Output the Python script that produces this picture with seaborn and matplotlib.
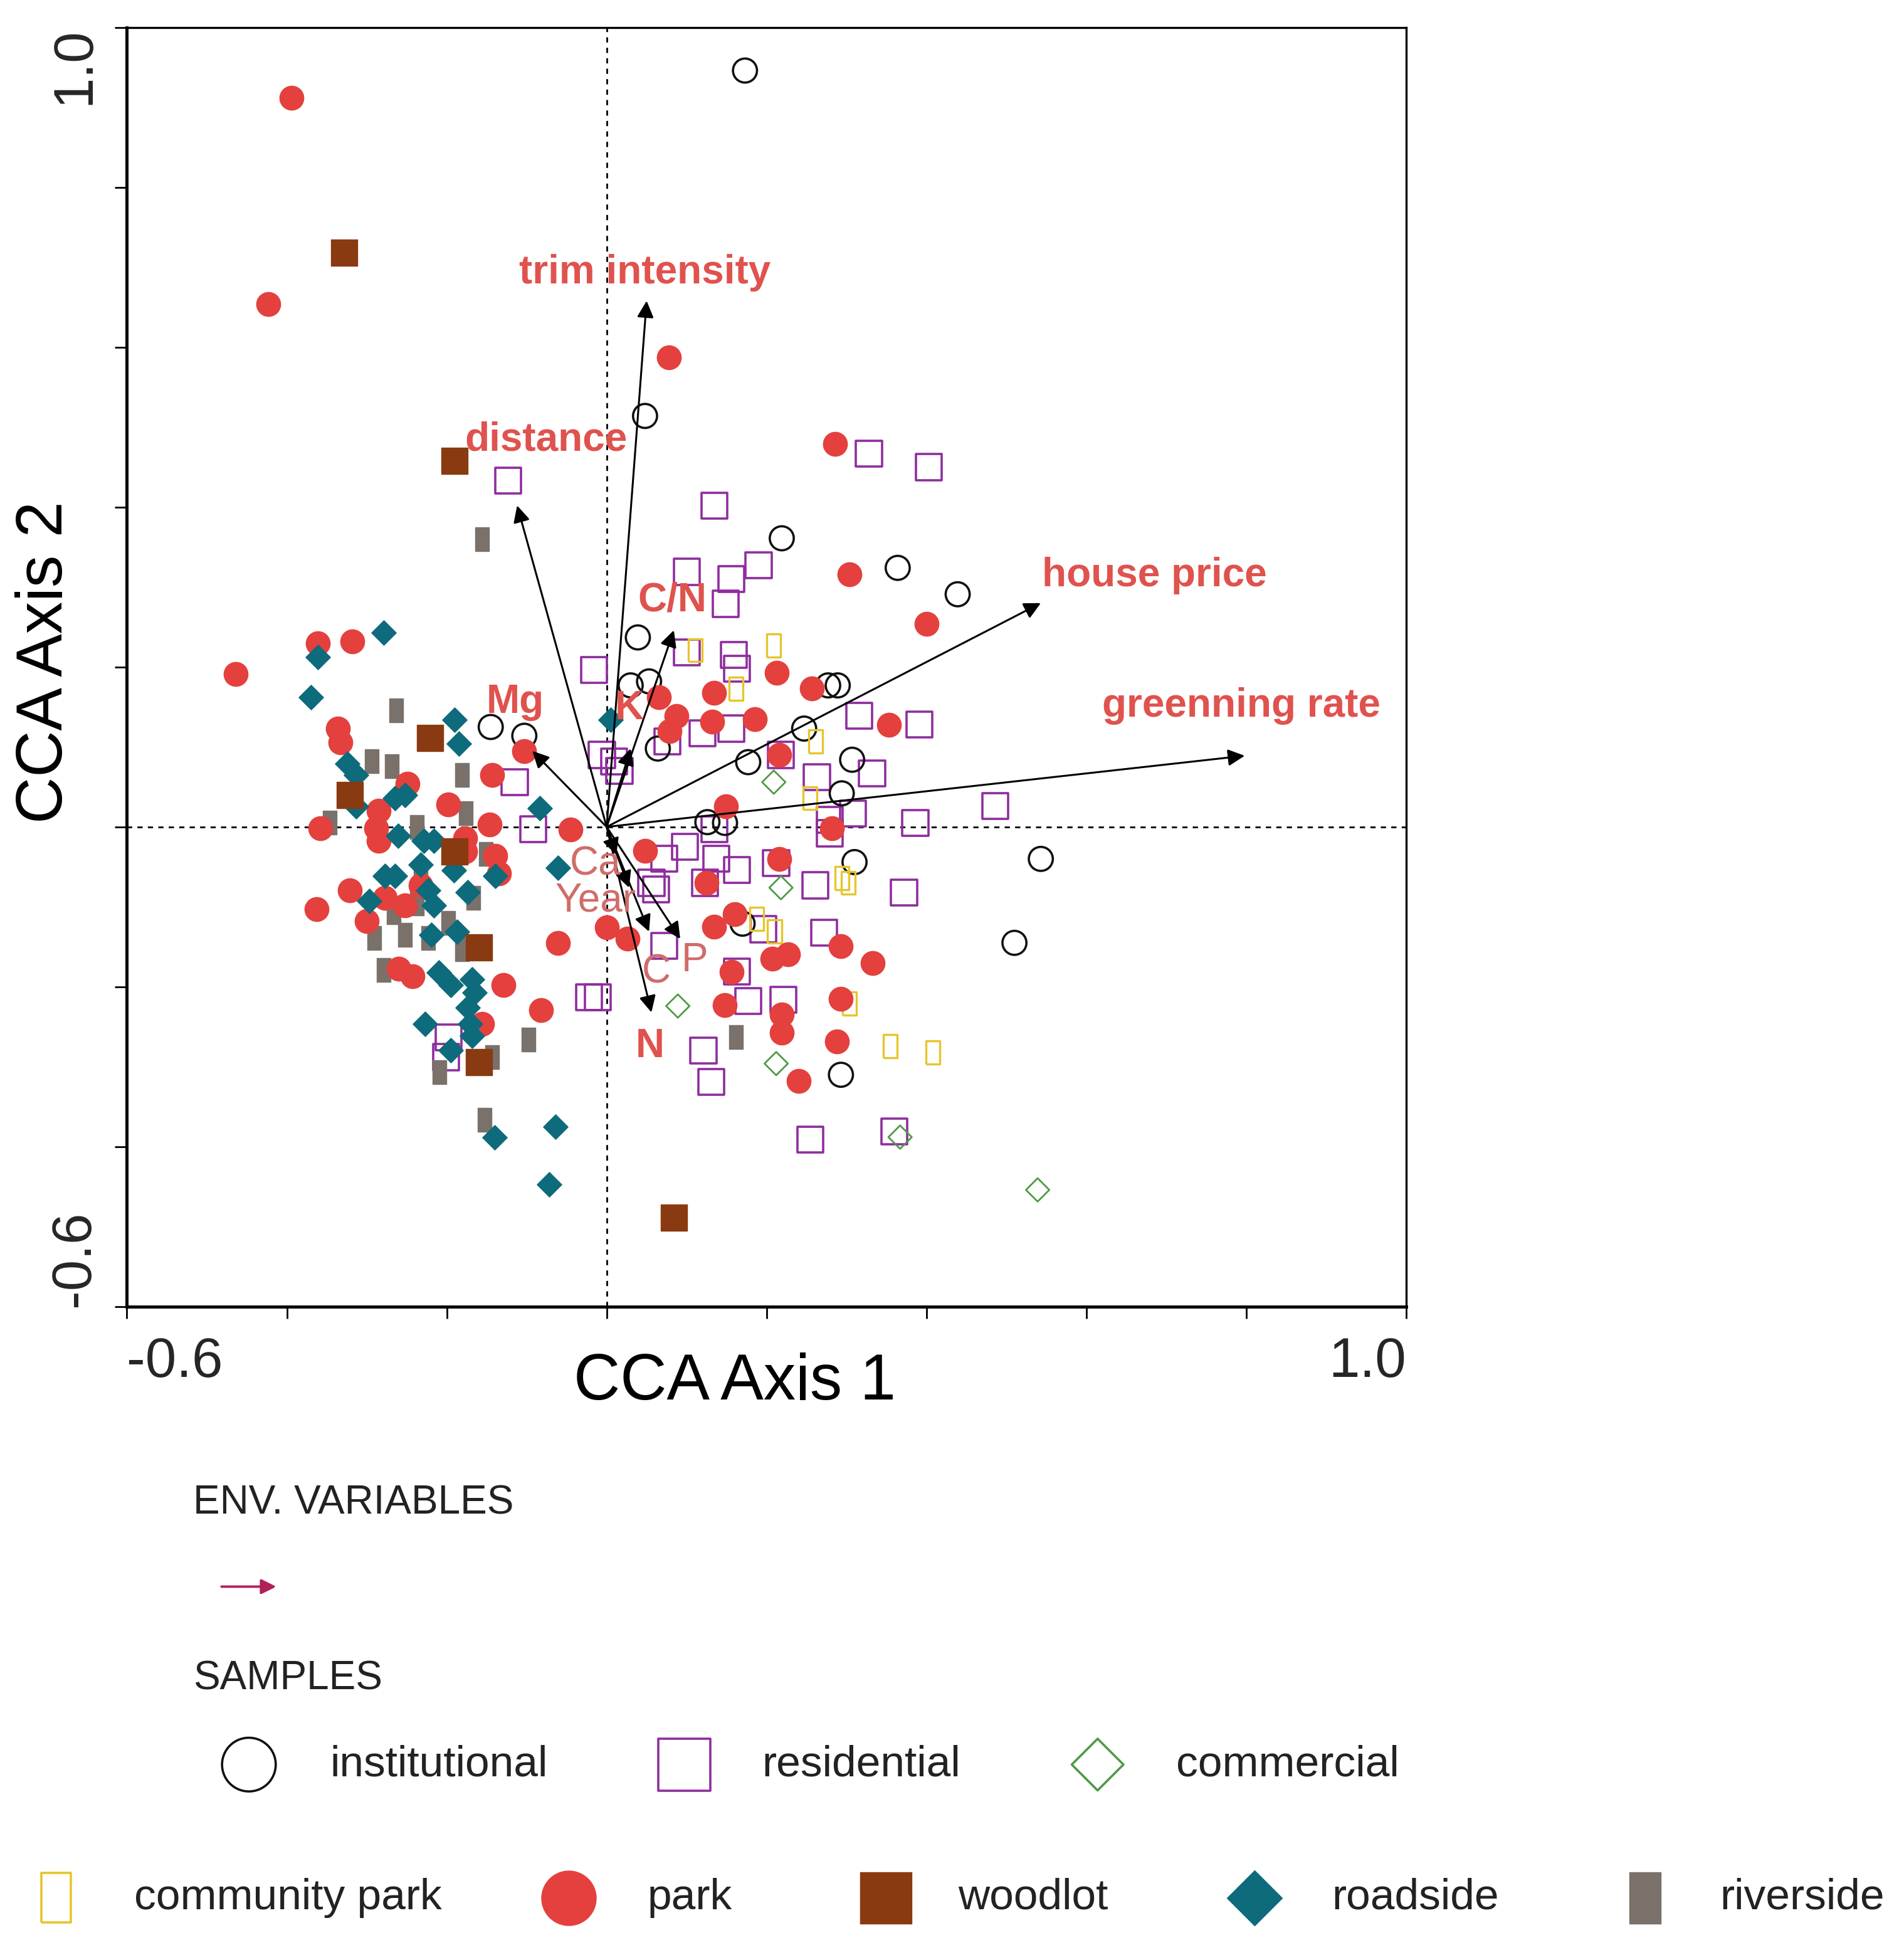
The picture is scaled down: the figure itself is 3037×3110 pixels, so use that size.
import numpy as np
import pandas as pd
import matplotlib
matplotlib.use('Agg')
import matplotlib.pyplot as plt
import seaborn as sns

# sample scores on CCA axis 1 / axis 2
institutional_x = [0.173, 0.048, 0.219, 0.364, 0.439, 0.039, 0.030, 0.053, 0.277, 0.289, -0.145, -0.103,
                   0.247, 0.064, 0.177, 0.307, 0.294, 0.126, 0.148, 0.310, 0.543, 0.510, 0.170, 0.293]
institutional_y = [0.946, 0.514, 0.361, 0.324, 0.291, 0.237, 0.177, 0.182, 0.177, 0.177, 0.125, 0.114,
                   0.123, 0.098, 0.081, 0.084, 0.042, 0.006, 0.005, -0.044, -0.040, -0.145, -0.121, -0.310]

residential_x = [-0.123, 0.328, 0.403, 0.135, 0.100, 0.156, 0.190, 0.149, -0.016, 0.159, 0.163, 0.100,
                 0.316, 0.391, 0.120, 0.156, 0.076, -0.006, 0.009, 0.016, 0.332, 0.263, 0.218, 0.486,
                 0.308, 0.279, 0.279, 0.386, 0.135, 0.098, 0.072, 0.137, 0.163, 0.056, 0.123, 0.212,
                 0.261, 0.372, 0.196, 0.272, 0.072, 0.163, -0.022, -0.011, 0.177, 0.221, 0.121, 0.131,
                 0.255, 0.360, -0.115, -0.092, -0.198, -0.201, 0.062]
residential_y = [0.433, 0.467, 0.450, 0.402, 0.319, 0.310, 0.327, 0.279, 0.196, 0.215, 0.198, 0.218,
                 0.139, 0.128, 0.117, 0.123, 0.107, 0.090, 0.082, 0.070, 0.067, 0.062, 0.090, 0.026,
                 0.017, 0.009, -0.008, 0.005, -0.003, -0.025, -0.040, -0.040, -0.054, -0.070, -0.070, -0.045,
                 -0.073, -0.082, -0.128, -0.132, -0.149, -0.181, -0.213, -0.213, -0.218, -0.216, -0.280, -0.319,
                 -0.391, -0.381, 0.056, -0.003, -0.263, -0.288, -0.078]

commercial_x = [0.209, 0.218, 0.089, 0.212, 0.367, 0.539]
commercial_y = [0.056, -0.076, -0.224, -0.296, -0.388, -0.454]

community_x = [0.209, 0.111, 0.162, 0.261, 0.254, 0.294, 0.302, 0.188, 0.210, 0.304, 0.355, 0.408]
community_y = [0.227, 0.221, 0.173, 0.107, 0.036, -0.064, -0.070, -0.115, -0.131, -0.221, -0.274, -0.282]

park_x = [-0.394, -0.423, 0.078, 0.286, -0.464, -0.361, -0.318, -0.336, -0.333, -0.249,
          -0.285, -0.288, -0.285, -0.358, -0.198, -0.143, -0.146, -0.177, -0.177, -0.139,
          -0.135, -0.045, -0.103, -0.321, -0.363, -0.300, -0.277, -0.252, -0.233, -0.061,
          0.000, 0.026, -0.260, -0.243, -0.129, -0.082, -0.156, 0.304, 0.400, 0.213,
          0.134, 0.257, 0.065, 0.087, 0.079, 0.132, 0.185, 0.353, 0.216, 0.149,
          0.282, 0.048, 0.216, 0.125, 0.160, 0.134, 0.293, 0.207, 0.227, 0.333,
          0.156, 0.293, 0.148, 0.219, 0.219, 0.288, 0.240]
park_y = [0.912, 0.654, 0.587, 0.479, 0.191, 0.230, 0.232, 0.123, 0.106, 0.054,
          0.020, -0.002, -0.017, -0.002, 0.028, 0.065, 0.003, -0.014, -0.031, -0.036,
          -0.058, -0.003, 0.095, -0.079, -0.103, -0.118, -0.089, -0.098, -0.073, -0.145,
          -0.126, -0.140, -0.177, -0.187, -0.198, -0.229, -0.246, 0.316, 0.254, 0.193,
          0.168, 0.173, 0.162, 0.139, 0.120, 0.132, 0.135, 0.128, 0.090, 0.026,
          -0.002, -0.030, -0.040, -0.070, -0.109, -0.125, -0.149, -0.165, -0.159, -0.170,
          -0.181, -0.215, -0.223, -0.235, -0.257, -0.268, -0.318]

woodlot_x = [-0.328, -0.190, -0.221, -0.321, -0.160, 0.084, -0.160, -0.190]
woodlot_y = [0.718, 0.458, 0.111, 0.040, -0.294, -0.489, -0.151, -0.031]

roadside_x = [-0.279, -0.361, -0.370, -0.190, -0.185, -0.324, -0.313, -0.313, -0.265, -0.252,
              -0.261, -0.229, -0.216, -0.233, -0.277, -0.265, -0.297, -0.223, -0.216, -0.191,
              -0.174, -0.139, -0.187, -0.061, -0.084, 0.005, -0.219, -0.210, -0.195, -0.168,
              -0.165, -0.174, -0.171, -0.168, -0.227, -0.195, -0.140, -0.064, -0.072]
roadside_y = [0.243, 0.212, 0.162, 0.134, 0.104, 0.079, 0.065, 0.026, 0.036, 0.040,
              -0.011, -0.017, -0.017, -0.047, -0.061, -0.061, -0.093, -0.079, -0.098, -0.054,
              -0.082, -0.061, -0.131, -0.051, 0.023, 0.134, -0.135, -0.182, -0.198, -0.191,
              -0.207, -0.226, -0.246, -0.261, -0.246, -0.279, -0.388, -0.375, -0.447]

riverside_x = [-0.156, -0.263, -0.294, -0.269, -0.181, -0.346, -0.237, -0.176, -0.151, -0.233, -0.167, -0.266,
               -0.291, -0.252, -0.223, -0.181, -0.279, -0.143, -0.209, -0.098, -0.153, 0.162, -0.198, -0.237]
riverside_y = [0.360, 0.146, 0.082, 0.076, 0.065, 0.005, 0.000, 0.017, -0.034, -0.065, -0.089, -0.107,
               -0.139, -0.135, -0.139, -0.153, -0.179, -0.288, -0.307, -0.266, -0.366, -0.263, -0.120, -0.096]

# environmental variable biplot arrows
env_names = ['trim intensity', 'distance', 'house price', 'greenning rate', 'C/N', 'Mg',
             'K', 'Ca', 'Year', 'C', 'P', 'N']
env_x = [0.050, -0.112, 0.543, 0.798, 0.084, -0.093, 0.030, 0.012, 0.028, 0.053, 0.092, 0.056]
env_y = [0.658, 0.402, 0.280, 0.089, 0.246, 0.095, 0.098, -0.035, -0.076, -0.131, -0.140, -0.232]

# label placement (layout only)
label_pos = {'trim intensity': (0.048, 0.693), 'distance': (-0.076, 0.484),
             'house price': (0.685, 0.314), 'greenning rate': (0.794, 0.151),
             'C/N': (0.082, 0.283), 'Mg': (-0.114, 0.156), 'K': (0.028, 0.148),
             'Ca': (-0.014, -0.047), 'Year': (-0.014, -0.092), 'C': (0.062, -0.182),
             'P': (0.110, -0.167), 'N': (0.054, -0.275)}
bold_labels = ['trim intensity', 'distance', 'house price', 'greenning rate', 'Mg', 'N', 'C/N', 'K']

tall_rect = [(-0.3, -0.5), (0.3, -0.5), (0.3, 0.5), (-0.3, 0.5), (-0.3, -0.5)]

# name: (x, y, marker, size, face, edge, linewidth)
styles = {
    'residential':    (residential_x, residential_y, 's', 220, 'none', '#8e2d9e', 1.3),
    'institutional':  (institutional_x, institutional_y, 'o', 190, 'none', '#111111', 1.3),
    'commercial':     (commercial_x, commercial_y, 'D', 90, 'none', '#4f9a45', 1.0),
    'community park': (community_x, community_y, tall_rect, 175, 'none', '#e6c52a', 1.2),
    'riverside':      (riverside_x, riverside_y, tall_rect, 190, '#7a716b', '#7a716b', 0.5),
    'park':           (park_x, park_y, 'o', 190, '#e4403d', '#e4403d', 0.5),
    'roadside':       (roadside_x, roadside_y, 'D', 100, '#0d6b7b', '#0d6b7b', 0.5),
    'woodlot':        (woodlot_x, woodlot_y, 's', 235, '#8a3a10', '#8a3a10', 0.5),
}

frames = [pd.DataFrame({'x': v[0], 'y': v[1], 'group': k}) for k, v in styles.items()]
df = pd.concat(frames, ignore_index=True)

sns.set_theme(style='ticks')
plt.rcParams['font.family'] = ['Liberation Sans', 'DejaVu Sans']

fig = plt.figure(figsize=(3037 / 200, 3110 / 200), dpi=200)
ax = fig.add_axes([102 / 1530, 1 - 1050 / 1567, 1028 / 1530, 1028 / 1567])

for g, (xs, ys, mk, s, fc, ec, lw) in styles.items():
    sub = df[df['group'] == g]
    sns.scatterplot(data=sub, x='x', y='y', marker=mk, s=s, facecolor=fc, edgecolor=ec,
                    linewidth=lw, ax=ax, legend=False, zorder=3)

ax.axhline(0, color='black', lw=1.0, ls=(0, (3, 3)), zorder=1)
ax.axvline(0, color='black', lw=1.0, ls=(0, (3, 3)), zorder=1)

for name, ex, ey in zip(env_names, env_x, env_y):
    ax.annotate('', xy=(ex, ey), xytext=(0, 0),
                arrowprops=dict(arrowstyle='-|>', color='black', lw=1.1,
                                mutation_scale=20, shrinkA=0, shrinkB=0), zorder=5)
    lx, ly = label_pos[name]
    if name in bold_labels:
        ax.text(lx, ly, name, color='#e0524e', fontsize=23, fontweight='bold',
                ha='center', va='center', zorder=6)
    else:
        ax.text(lx, ly, name, color='#cf6d6a', fontsize=23,
                ha='center', va='center', zorder=6)

ax.set_xlim(-0.6, 1.0)
ax.set_ylim(-0.6, 1.0)
ticks = np.round(np.arange(-0.6, 1.01, 0.2), 1)
tick_labels = ['-0.6'] + [''] * (len(ticks) - 2) + ['1.0']
ax.set_xticks(ticks)
ax.set_xticklabels(tick_labels, fontsize=32)
ax.set_yticks(ticks)
ax.set_yticklabels(tick_labels, fontsize=32, rotation=90)
ax.tick_params(axis='both', direction='out', length=7, width=1.0, color='black')
ax.tick_params(axis='x', pad=10)
ax.tick_params(axis='y', pad=8)
xl = ax.get_xticklabels()
xl[0].set_ha('left')
xl[-1].set_ha('right')
yl = ax.get_yticklabels()
yl[0].set_va('bottom')
yl[-1].set_va('top')

ax.set_xlabel('CCA Axis 1', fontsize=37, color='black')
ax.set_ylabel('CCA Axis 2', fontsize=37, color='black')
ax.xaxis.set_label_coords(0.475, -0.036)
ax.yaxis.set_label_coords(-0.04, 0.504)

for side in ['left', 'bottom']:
    ax.spines[side].set_linewidth(1.8)
for side in ['top', 'right']:
    ax.spines[side].set_linewidth(1.2)
for sp in ax.spines.values():
    sp.set_color('black')

# legend block drawn on an overlay in figure pixel units
lg = fig.add_axes([0, 0, 1, 1], facecolor='none')
lg.set_xlim(0, 1530)
lg.set_ylim(1567, 0)
lg.axis('off')

txt = dict(fontsize=25, color='#222222', va='center', ha='left')
lg.text(155, 1208, 'ENV. VARIABLES', fontsize=23, color='#222222', va='center', ha='left')
lg.annotate('', xy=(222, 1275), xytext=(178, 1275),
            arrowprops=dict(arrowstyle='-|>', color='#b0205a', lw=1.4,
                            mutation_scale=18, shrinkA=0, shrinkB=0))
lg.text(155, 1349, 'SAMPLES', fontsize=23, color='#222222', va='center', ha='left')

row1 = [('institutional', 200, 265), ('residential', 550, 612), ('commercial', 882, 945)]
row2 = [('community park', 45, 108), ('park', 457, 520), ('woodlot', 712, 770),
        ('roadside', 1008, 1070), ('riverside', 1322, 1382)]
leg_size = {'institutional': 950, 'residential': 900, 'commercial': 440, 'community park': 800,
            'park': 980, 'woodlot': 880, 'roadside': 500, 'riverside': 880}
for items, yy in [(row1, 1418), (row2, 1525)]:
    for name, mx, tx in items:
        _, _, mk, _, fc, ec, lw = styles[name]
        lg.scatter([mx], [yy], marker=mk, s=leg_size[name], facecolor=fc, edgecolor=ec,
                   linewidth=max(lw, 1.3) if fc == 'none' else 0.5)
        lg.text(tx, yy, name, **txt)

fig.savefig('out.png', dpi=200, facecolor='white')
